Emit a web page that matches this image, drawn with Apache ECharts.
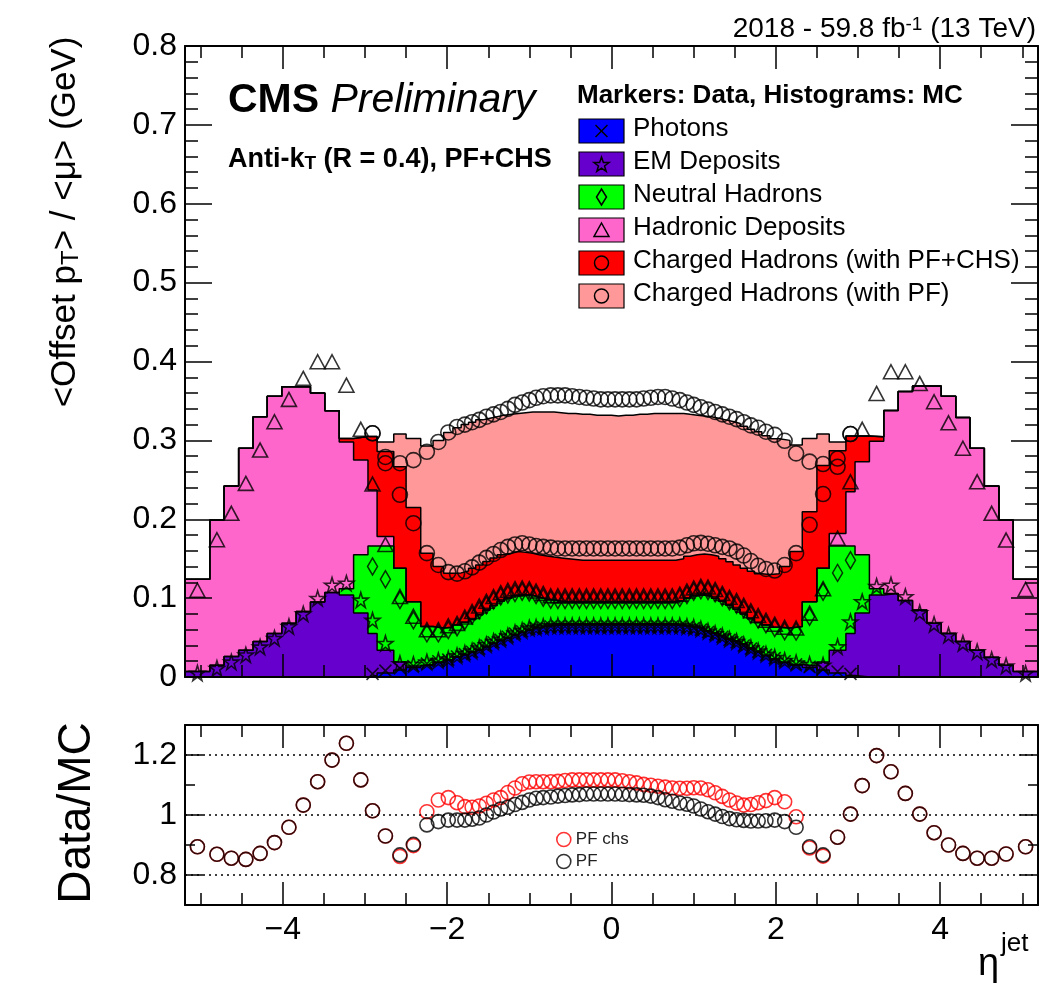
<!DOCTYPE html>
<html><head><meta charset="utf-8">
<script src="https://cdn.jsdelivr.net/npm/echarts@6/dist/echarts.min.js"></script>
<style>html,body{margin:0;padding:0;background:#fff}#c{width:1063px;height:988px}</style>
</head><body><div id="c"></div>
<script>
// ---------- DATA ----------
const etaEdges = [-5.191,-4.889,-4.716,-4.538,-4.363,-4.191,-4.013,-3.839,-3.664,-3.489,-3.314,-3.139,-2.964,-2.853,-2.65,-2.5,-2.322,-2.172,-2.043,-1.93,-1.83,-1.74,-1.653,-1.566,-1.479,-1.392,-1.305,-1.218,-1.131,-1.044,-0.957,-0.879,-0.783,-0.696,-0.609,-0.522,-0.435,-0.348,-0.261,-0.174,-0.087,0,
 0.087,0.174,0.261,0.348,0.435,0.522,0.609,0.696,0.783,0.879,0.957,1.044,1.131,1.218,1.305,1.392,1.479,1.566,1.653,1.74,1.83,1.93,2.043,2.172,2.322,2.5,2.65,2.853,2.964,3.139,3.314,3.489,3.664,3.839,4.013,4.191,4.363,4.538,4.716,4.889,5.191];

// MC stacked histogram tops (cumulative), one value per eta bin
const mcPhotonsTop = [0,0,0,0,0,0,0,0,0,0,0,0,0.002,0.005,0.009,0.012,0.015,0.018,0.021,0.025,0.028,0.031,0.034,0.038,0.042,0.046,0.049,0.053,0.056,0.059,0.062,0.064,0.065,0.066,0.066,0.066,0.066,0.066,0.066,0.066,0.066,
 0.066,0.066,0.066,0.066,0.066,0.066,0.066,0.066,0.066,0.065,0.064,0.063,0.061,0.058,0.055,0.052,0.048,0.045,0.041,0.036,0.032,0.027,0.022,0.018,0.015,0.012,0.009,0.005,0.002,0,0,0,0,0,0,0,0,0,0,0,0];
const mcEMTop = [0.007,0.015,0.026,0.034,0.045,0.055,0.068,0.083,0.095,0.107,0.104,0.081,0.055,0.034,0.019,0.014,0.016,0.019,0.022,0.026,0.029,0.032,0.035,0.039,0.043,0.047,0.050,0.054,0.057,0.060,0.063,0.065,0.066,0.067,0.067,0.067,0.067,0.067,0.067,0.067,0.067,
 0.067,0.067,0.067,0.067,0.067,0.067,0.067,0.067,0.067,0.066,0.065,0.064,0.062,0.059,0.056,0.053,0.049,0.046,0.042,0.037,0.033,0.028,0.023,0.019,0.016,0.014,0.019,0.034,0.055,0.081,0.104,0.106,0.097,0.085,0.068,0.055,0.045,0.034,0.025,0.015,0.007];
const mcNeutralTop = [0.007,0.015,0.026,0.034,0.045,0.055,0.068,0.083,0.095,0.107,0.112,0.155,0.166,0.166,0.138,0.0955,0.064,0.062,0.063,0.066,0.0695,0.073,0.079,0.085,0.0905,0.096,0.100,0.103,0.104,0.1035,0.101,0.099,0.0975,0.096,0.0955,0.0955,0.0955,0.0955,0.0955,0.0955,0.0955,
 0.0955,0.0955,0.0955,0.0955,0.0955,0.0955,0.0955,0.0955,0.0955,0.097,0.100,0.103,0.104,0.103,0.100,0.096,0.091,0.086,0.080,0.074,0.069,0.066,0.063,0.062,0.064,0.0955,0.138,0.166,0.166,0.155,0.112,0.106,0.097,0.085,0.068,0.055,0.045,0.034,0.025,0.015,0.007];
const mcHadDepTop = [0.124,0.199,0.242,0.290,0.330,0.356,0.368,0.368,0.360,0.3375,0.298,0.275,0.237,0.178,0.138,0.0955,0.064,0.062,0.063,0.066,0.0695,0.073,0.079,0.085,0.0905,0.096,0.100,0.103,0.104,0.1035,0.101,0.099,0.0975,0.096,0.0955,0.0955,0.0955,0.0955,0.0955,0.0955,0.0955,
 0.0955,0.0955,0.0955,0.0955,0.0955,0.0955,0.0955,0.0955,0.0955,0.097,0.100,0.103,0.104,0.103,0.100,0.096,0.091,0.086,0.080,0.074,0.069,0.066,0.063,0.062,0.064,0.0955,0.138,0.182,0.235,0.273,0.299,0.338,0.362,0.369,0.369,0.356,0.329,0.290,0.242,0.199,0.124];
const mcChargedCHSTop = [0.124,0.199,0.242,0.290,0.330,0.356,0.368,0.368,0.360,0.3375,0.3025,0.305,0.305,0.286,0.2665,0.215,0.157,0.140,0.1315,0.132,0.1345,0.138,0.142,0.1465,0.151,0.155,0.157,0.159,0.158,0.157,0.155,0.1535,0.152,0.151,0.150,0.149,0.148,0.148,0.148,0.148,0.148,
 0.148,0.148,0.148,0.148,0.148,0.148,0.148,0.148,0.148,0.150,0.153,0.155,0.156,0.155,0.153,0.150,0.146,0.142,0.138,0.134,0.131,0.130,0.131,0.140,0.159,0.2095,0.268,0.287,0.3055,0.3055,0.3045,0.338,0.362,0.369,0.369,0.356,0.329,0.290,0.242,0.199,0.124];
const mcChargedPFTop = [0.124,0.199,0.242,0.290,0.330,0.356,0.368,0.368,0.360,0.3375,0.3025,0.305,0.305,0.298,0.308,0.3025,0.293,0.300,0.310,0.316,0.320,0.323,0.326,0.328,0.330,0.332,0.333,0.334,0.335,0.336,0.336,0.336,0.336,0.335,0.334,0.334,0.333,0.333,0.332,0.332,0.332,
 0.331,0.332,0.332,0.333,0.333,0.334,0.334,0.334,0.334,0.334,0.333,0.332,0.331,0.330,0.328,0.326,0.324,0.3215,0.318,0.314,0.311,0.306,0.302,0.300,0.294,0.3025,0.308,0.298,0.3055,0.3055,0.3045,0.338,0.362,0.369,0.369,0.356,0.329,0.290,0.242,0.199,0.124];

// Data markers (cumulative), null = not drawn
const N = null;
const dataPhotons = [N,N,N,N,N,N,N,N,N,N,N,N,0.004,0.008,0.011,0.014,0.017,0.020,0.022,0.026,0.029,0.032,0.036,0.040,0.044,0.047,0.051,0.055,0.058,0.061,0.062,0.063,0.064,0.064,0.064,0.064,0.064,0.064,0.064,0.064,0.064,
 0.064,0.064,0.064,0.064,0.064,0.064,0.064,0.064,0.064,0.064,0.063,0.062,0.060,0.057,0.054,0.051,0.047,0.044,0.040,0.036,0.032,0.028,0.024,0.020,0.016,0.013,0.010,0.007,0.004,N,N,N,N,N,N,N,N,N,N,N,N];
const dataEM = [0.005,0.011,0.019,0.028,0.038,0.049,0.064,0.080,0.0997,0.1166,0.119,0.0976,0.072,0.0427,0.017,0.016,0.019,0.021,0.023,0.027,0.030,0.033,0.037,0.041,0.045,0.048,0.052,0.056,0.059,0.062,0.063,0.064,0.065,0.065,0.065,0.065,0.065,0.065,0.065,0.065,0.065,
 0.065,0.065,0.065,0.065,0.065,0.065,0.065,0.065,0.065,0.065,0.064,0.063,0.061,0.058,0.055,0.052,0.048,0.045,0.041,0.037,0.033,0.029,0.025,0.021,0.018,0.016,0.015,0.0384,0.070,0.0955,0.115,0.1166,0.102,0.0815,0.0667,0.053,0.0427,0.032,0.022,0.014,0.0046];
const dataNeutral = [N,N,N,N,N,N,N,N,N,N,N,N,0.140,0.124,0.0976,0.072,0.0553,0.0553,0.0596,0.063,0.071,0.078,0.0845,0.091,0.097,0.102,0.1045,0.1065,0.108,0.107,0.104,0.1005,0.098,0.0976,0.0976,0.0976,0.0976,0.0976,0.0976,0.0976,0.0976,
 0.0976,0.0976,0.0976,0.0976,0.0976,0.0976,0.0976,0.0976,0.0976,0.100,0.104,0.108,0.110,0.109,0.106,0.101,0.096,0.0915,0.086,0.079,0.073,0.067,0.062,0.058,0.0575,0.0765,0.108,0.132,0.148,N,N,N,N,N,N,N,N,N,N,N,N];
const dataHadDep = [0.110,0.174,0.2075,0.2455,0.2877,0.3236,0.352,0.3786,0.3997,0.3997,0.370,0.314,0.2446,0.168,0.102,0.077,0.060,0.060,0.065,0.068,0.076,0.083,0.090,0.096,0.102,0.107,0.110,0.112,0.113,0.112,0.109,0.106,0.103,0.103,0.103,0.103,0.103,0.103,0.103,0.103,0.103,
 0.103,0.103,0.103,0.103,0.103,0.103,0.103,0.103,0.103,0.105,0.109,0.113,0.115,0.114,0.111,0.106,0.101,0.097,0.091,0.084,0.078,0.072,0.067,0.063,0.062,0.081,0.112,0.176,0.2475,0.314,0.3595,0.387,0.387,0.372,0.349,0.3223,0.290,0.2475,0.2075,0.1736,0.111];
const dataChargedCHS = [N,N,N,N,N,N,N,N,N,N,N,N,0.309,0.271,0.231,0.195,0.157,0.142,0.133,0.131,0.134,0.139,0.145,0.151,0.156,0.161,0.165,0.168,0.1695,0.168,0.166,0.165,0.164,0.163,0.163,0.163,0.163,0.163,0.163,0.163,0.163,
 0.163,0.163,0.163,0.163,0.163,0.163,0.163,0.163,0.163,0.164,0.167,0.1695,0.170,0.169,0.167,0.165,0.163,0.159,0.154,0.147,0.141,0.137,0.135,0.142,0.157,0.193,0.232,0.2665,0.308,N,N,N,N,N,N,N,N,N,N,N,N];
const dataChargedPF = [N,N,N,N,N,N,N,N,N,N,N,N,0.309,0.279,0.271,0.275,0.2855,0.298,0.310,0.317,0.320,0.323,0.326,0.330,0.333,0.336,0.340,0.345,0.348,0.351,0.354,0.356,0.357,0.357,0.357,0.356,0.355,0.354,0.353,0.352,0.352,
 0.352,0.352,0.352,0.352,0.353,0.354,0.355,0.355,0.353,0.351,0.348,0.345,0.342,0.339,0.336,0.333,0.330,0.327,0.323,0.319,0.316,0.311,0.307,0.2995,0.2835,0.273,0.270,0.277,0.308,N,N,N,N,N,N,N,N,N,N,N,N];

// Ratio panel
const ratioPFchs = [0.894,0.869,0.856,0.852,0.872,0.908,0.959,1.033,1.111,1.183,1.239,1.117,1.014,0.930,0.862,0.898,1.011,1.050,1.058,1.041,1.028,1.026,1.030,1.039,1.050,1.058,1.075,1.090,1.104,1.110,1.111,1.111,1.111,1.112,1.115,1.117,1.117,1.117,1.117,1.117,1.117,
 1.117,1.114,1.111,1.107,1.102,1.099,1.096,1.093,1.090,1.089,1.089,1.091,1.090,1.084,1.074,1.062,1.050,1.040,1.033,1.035,1.041,1.048,1.058,1.044,0.994,0.890,0.863,0.926,1.003,1.098,1.198,1.144,1.072,1.003,0.941,0.900,0.872,0.856,0.856,0.870,0.894];
const ratioPF = [0.894,0.869,0.856,0.852,0.872,0.908,0.959,1.033,1.111,1.183,1.239,1.117,1.014,0.930,0.867,0.902,0.967,0.978,0.983,0.983,0.983,0.986,0.990,1.000,1.010,1.020,1.026,1.035,1.042,1.050,1.056,1.058,1.060,1.063,1.065,1.067,1.068,1.070,1.070,1.070,1.070,
 1.070,1.069,1.068,1.067,1.066,1.063,1.058,1.051,1.046,1.040,1.036,1.030,1.020,1.011,1.003,0.995,0.988,0.984,0.982,0.980,0.980,0.981,0.983,0.978,0.959,0.894,0.867,0.926,1.003,1.098,1.198,1.144,1.072,1.003,0.941,0.900,0.872,0.856,0.856,0.870,0.894];

const xMajorTicks = [-4,-2,0,2,4];
const xMinorTicks = [-5,-4.5,-3.5,-3,-2.5,-1.5,-1,-0.5,0.5,1,1.5,2.5,3,3.5,4.5,5];
const ratioMajorTicks = [0.8,1,1.2];
const ratioMinorTicks = [0.9,1.1];
const ratioRefLines = [0.8,1,1.2];

// ---------- BUILD ----------
const FONT = '"Liberation Sans", Arimo, Arial, Helvetica, sans-serif';
const centers = etaEdges.slice(0,-1).map((e,i)=>(e+etaEdges[i+1])/2);
function stepPoints(vals){
  const p=[[etaEdges[0],0]];
  vals.forEach((v,i)=>{p.push([etaEdges[i],v],[etaEdges[i+1],v]);});
  p.push([etaEdges[etaEdges.length-1],0]);
  return p;
}
function markerPoints(vals){ return vals.map((v,i)=> v==null?null:[centers[i],v]).filter(d=>d); }
const XMIN = etaEdges[0], XMAX = etaEdges[etaEdges.length-1];
const minusFmt = v => (v<0 ? '\u2212'+Math.abs(v) : String(v));

function xAx(grid, pos, ticks, len, showLine, label){
  return {type:'value', gridIndex:grid, position:pos, min:XMIN, max:XMAX, z:6,
    axisLine:{show:showLine, onZero:false, lineStyle:{color:'#000', width:2}},
    axisTick:{show:true, inside:true, length:len, customValues:ticks, lineStyle:{color:'#000', width:1.5}},
    axisLabel: label ? {show:true, customValues:xMajorTicks, formatter:minusFmt, fontSize:32, fontFamily:FONT, color:'#000', margin:9} : {show:false},
    splitLine:{show:false}};
}
const xAxes = [
  xAx(0,'bottom',xMajorTicks,23,true,false),
  xAx(0,'bottom',xMinorTicks,12,false,false),
  xAx(0,'top',xMajorTicks,23,true,false),
  xAx(0,'top',xMinorTicks,12,false,false),
  xAx(1,'bottom',xMajorTicks,23,true,true),
  xAx(1,'bottom',xMinorTicks,12,false,false),
  xAx(1,'top',xMajorTicks,23,true,false),
  xAx(1,'top',xMinorTicks,12,false,false)
];
function yTop(pos, label){
  return {type:'value', gridIndex:0, position:pos, min:0, max:0.8, interval:0.1, z:6,
    axisLine:{show:true, onZero:false, lineStyle:{color:'#000', width:2}},
    axisTick:{show:true, inside:true, length:27, lineStyle:{color:'#000', width:1.5}},
    minorTick:{show:true, splitNumber:5, length:13, lineStyle:{color:'#000', width:1.5}},
    axisLabel: label ? {show:true, fontSize:32, fontFamily:FONT, color:'#000', margin:8} : {show:false},
    splitLine:{show:false}, minorSplitLine:{show:false}};
}
function yLow(pos, ticks, len, showLine, label){
  return {type:'value', gridIndex:1, position:pos, min:0.7, max:1.3, z:6,
    axisLine:{show:showLine, onZero:false, lineStyle:{color:'#000', width:2}},
    axisTick:{show:true, inside:true, length:len, customValues:ticks, lineStyle:{color:'#000', width:1.5}},
    axisLabel: label ? {show:true, customValues:ratioMajorTicks, fontSize:32, fontFamily:FONT, color:'#000', margin:8} : {show:false},
    splitLine:{show:false}};
}
const yAxes = [
  yTop('left',true), yTop('right',false),
  yLow('left',ratioMajorTicks,18,true,true), yLow('left',ratioMinorTicks,10,false,false),
  yLow('right',ratioMajorTicks,18,true,false), yLow('right',ratioMinorTicks,10,false,false)
];

const histDefs = [
  [mcChargedPFTop,'#ff9999'],
  [mcChargedCHSTop,'#ff0000'],
  [mcHadDepTop,'#ff66cc'],
  [mcNeutralTop,'#00ff00'],
  [mcEMTop,'#6600cc'],
  [mcPhotonsTop,'#0000ff']
];
const series = [];
histDefs.forEach(([vals,color],k)=>{
  series.push({type:'line', xAxisIndex:0, yAxisIndex:0, data:stepPoints(vals), symbol:'none', showSymbol:false,
    silent:true, z:2, lineStyle:{color:'#000', width:1.5}, areaStyle:{color:color, opacity:1}});
});
const STAR = 'path://M50,2L61,37L98,37L68,59L79,95L50,73L21,95L32,59L2,37L39,37Z';
const XMARK = 'path://M0,0L10,10M10,0L0,10';
const hollow = c => ({color:'rgba(0,0,0,0)', borderColor:c, borderWidth:1.6});
const markerDefs = [
  [dataChargedPF,'circle',15],
  [dataChargedCHS,'circle',15],
  [dataHadDep,'triangle',[15,14]],
  [dataNeutral,'diamond',[10,17]],
  [dataEM,STAR,15],
  [dataPhotons,XMARK,12]
];
markerDefs.forEach(([vals,sym,size])=>{
  series.push({type:'scatter', xAxisIndex:0, yAxisIndex:0, data:markerPoints(vals), symbol:sym, symbolSize:size,
    silent:true, z:3, itemStyle:hollow('#000')});
});
series.push({name:'PF chs', type:'scatter', xAxisIndex:4, yAxisIndex:2, data:markerPoints(ratioPFchs), symbol:'circle', symbolSize:14,
  silent:true, z:3, itemStyle:hollow('#ff0000'),
  markLine:{silent:true, symbol:'none', label:{show:false}, animation:false,
    lineStyle:{type:[2,4], color:'#000', width:1.5}, data:ratioRefLines.map(v=>({yAxis:v}))}});
series.push({name:'PF', type:'scatter', xAxisIndex:4, yAxisIndex:2, data:markerPoints(ratioPF), symbol:'circle', symbolSize:14,
  silent:true, z:4, itemStyle:hollow('#000')});

// legend (top) drawn as graphic
const legendEntries = [
  ['Photons','#0000ff','x'],
  ['EM Deposits','#6600cc','star'],
  ['Neutral Hadrons','#00ff00','diamond'],
  ['Hadronic Deposits','#ff66cc','triangle'],
  ['Charged Hadrons (with PF+CHS)','#ff0000','circle'],
  ['Charged Hadrons (with PF)','#ff9999','circle']
];
const graphics = [];
function txt(x,y,text,rich,align,extra){
  return Object.assign({type:'text', x:x, y:y, z:100, style:{text:text, rich:rich, align:align||'left', textAlign:align||'left', verticalAlign:'middle', textVerticalAlign:'middle', fill:'#000'}}, extra||{});
}
legendEntries.forEach(([label,color,mk],i)=>{
  const top = 119 + i*33, cx = 601.5, cy = top + 12;
  graphics.push({type:'rect', shape:{x:579, y:top, width:45, height:24}, style:{fill:color, stroke:'#000', lineWidth:1.2}, z:100});
  const st = {fill:'none', stroke:'#000', lineWidth:1.5};
  if(mk==='x'){
    graphics.push({type:'line', shape:{x1:cx-6,y1:cy-6,x2:cx+6,y2:cy+6}, style:st, z:101});
    graphics.push({type:'line', shape:{x1:cx+6,y1:cy-6,x2:cx-6,y2:cy+6}, style:st, z:101});
  } else if(mk==='star'){
    const pts=[]; for(let k=0;k<10;k++){const r=k%2?3.2:8, a=-Math.PI/2+k*Math.PI/5; pts.push([cx+r*Math.cos(a), cy+1+r*Math.sin(a)]);}
    graphics.push({type:'polygon', shape:{points:pts}, style:st, z:101});
  } else if(mk==='diamond'){
    graphics.push({type:'polygon', shape:{points:[[cx,cy-8],[cx+5,cy],[cx,cy+8],[cx-5,cy]]}, style:st, z:101});
  } else if(mk==='triangle'){
    graphics.push({type:'polygon', shape:{points:[[cx,cy-7],[cx+7.5,cy+6.5],[cx-7.5,cy+6.5]]}, style:st, z:101});
  } else {
    graphics.push({type:'circle', shape:{cx:cx, cy:cy, r:7}, style:st, z:101});
  }
  graphics.push(txt(633, cy-2, '{a|'+label+'}', {a:{fontSize:26, fontFamily:FONT, fill:'#000'}}));
});
graphics.push(txt(577, 96, '{a|Markers: Data, Histograms: MC}', {a:{fontSize:26, fontWeight:'bold', fontFamily:FONT, fill:'#000'}}));
graphics.push(txt(228, 101, '{b|CMS }{i|Preliminary}', {b:{fontSize:41, fontWeight:'bold', fontFamily:FONT, fill:'#000'}, i:{fontSize:41, fontStyle:'italic', fontFamily:FONT, fill:'#000'}}));
graphics.push(txt(228, 156, '{a|Anti-k}{s|T}{a| (R = 0.4), PF+CHS}', {a:{fontSize:27, fontWeight:'bold', fontFamily:FONT, fill:'#000', lineHeight:34, verticalAlign:'bottom'}, s:{fontSize:19, fontWeight:'bold', fontFamily:FONT, fill:'#000', lineHeight:14, verticalAlign:'bottom'}}));
graphics.push(txt(1036, 32, '{a|2018 - 59.8 fb}{s|-1}{a| (13 TeV)}', {a:{fontSize:28, fontFamily:FONT, fill:'#000', lineHeight:34, verticalAlign:'top'}, s:{fontSize:19, fontFamily:FONT, fill:'#000', lineHeight:20, verticalAlign:'top'}}, 'right'));
graphics.push(txt(62, 222, '{a|<Offset p}{s|T}{a|> / <\u03bc> (GeV)}', {a:{fontSize:35, fontFamily:FONT, fill:'#000', lineHeight:42, verticalAlign:'bottom'}, s:{fontSize:24, fontFamily:FONT, fill:'#000', lineHeight:18, verticalAlign:'bottom'}}, 'center', {rotation:Math.PI/2}));
graphics.push(txt(77, 813, '{a|Data/MC}', {a:{fontSize:46, fontFamily:FONT, fill:'#000'}}, 'center', {rotation:Math.PI/2}));
graphics.push(txt(978, 965, '{a|\u03b7}', {a:{fontSize:38, fontFamily:FONT, fill:'#000'}}));
graphics.push(txt(1001, 944, '{a|jet}', {a:{fontSize:26, fontFamily:FONT, fill:'#000'}}));

const option = {
  animation:false,
  backgroundColor:'#fff',
  grid:[{left:185, top:46, width:853, height:631}, {left:185, top:725, width:853, height:180}],
  xAxis:xAxes, yAxis:yAxes, series:series, graphic:graphics,
  legend:{show:true, orient:'vertical', left:551, top:826, itemWidth:14, itemHeight:14, itemGap:5, selectedMode:false,
    textStyle:{fontSize:17, fontFamily:FONT, color:'#222'},
    data:[{name:'PF chs', icon:'circle', itemStyle:hollow('#ff0000')}, {name:'PF', icon:'circle', itemStyle:hollow('#000')}]}
};
const chart = echarts.init(document.getElementById('c'), null, {renderer:'canvas', width:1063, height:988});
chart.setOption(option);
</script></body></html>
